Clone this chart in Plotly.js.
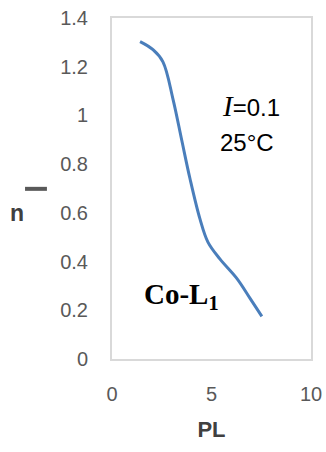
<!DOCTYPE html>
<html>
<head>
<meta charset="utf-8">
<script src="https://cdn.plot.ly/plotly-3.0.1.min.js"></script>
<style>html,body{margin:0;padding:0;background:#fff;}#chart{width:326px;height:452px;}</style>
</head>
<body>
<div id="chart"></div>
<script>
// Data (PL vs n-bar)
const plValues = [1.41, 2.06, 2.56, 3.07, 3.5, 3.92, 4.42, 4.82, 5.43, 6.28, 6.93, 7.53];
const nBarValues = [1.303, 1.27, 1.22, 1.065, 0.90, 0.74, 0.575, 0.48, 0.41, 0.33, 0.25, 0.175];
const xTickVals = [0, 5, 10];
const xTickText = ['0', '5', '10'];
const yTickVals = [0, 0.2, 0.4, 0.6, 0.8, 1, 1.2, 1.4];
const yTickText = ['0', '0.2', '0.4', '0.6', '0.8', '1', '1.2', '1.4'];

const trace = {
  x: plValues,
  y: nBarValues,
  type: 'scatter',
  mode: 'lines',
  line: {color: '#4a7ebb', width: 3, shape: 'spline', smoothing: 1},
  hoverinfo: 'skip'
};

const layout = {
  width: 326,
  height: 452,
  margin: {l: 112, r: 15, t: 18, b: 93},
  paper_bgcolor: '#ffffff',
  plot_bgcolor: '#ffffff',
  showlegend: false,
  font: {family: 'Liberation Sans, Arial, sans-serif', color: '#595959'},
  xaxis: {
    range: [0, 10],
    tickvals: xTickVals,
    ticktext: xTickText,
    showgrid: false,
    zeroline: false,
    showline: true,
    mirror: true,
    linecolor: '#d9d9d9',
    linewidth: 2,
    ticks: '',
    ticklabelstandoff: 16,
    tickfont: {size: 20, color: '#595959'},
    title: {text: '<b>PL</b>', font: {size: 22, color: '#404040'}, standoff: 18}
  },
  yaxis: {
    range: [0, 1.4],
    tickvals: yTickVals,
    ticktext: yTickText,
    showgrid: false,
    zeroline: false,
    showline: true,
    mirror: true,
    linecolor: '#d9d9d9',
    linewidth: 2,
    ticks: '',
    ticklabelstandoff: 18,
    tickfont: {size: 20, color: '#595959'}
  },
  annotations: [
    {x: -0.477, y: 0.428, xref: 'paper', yref: 'paper', text: '<b>n</b>', showarrow: false,
     xanchor: 'center', yanchor: 'middle', font: {size: 23, color: '#404040'}},
    {x: 6.98, y: 1.037, xref: 'x', yref: 'y', showarrow: false, xanchor: 'center', yanchor: 'middle',
     text: '<span style="font-family:Liberation Serif;font-style:italic;font-size:29px">I</span>=0.1',
     font: {size: 24, color: '#000000'}},
    {x: 6.8, y: 0.89, xref: 'x', yref: 'y', showarrow: false, xanchor: 'center', yanchor: 'middle',
     text: '25°C', font: {size: 24, color: '#000000'}},
    {x: 3.47, y: 0.26, xref: 'x', yref: 'y', showarrow: false, xanchor: 'center', yanchor: 'middle',
     text: '<b>Co-L<sub>1</sub></b>', font: {family: 'Liberation Serif, Times New Roman, serif', size: 29, color: '#000000'}}
  ],
  shapes: [
    {type: 'line', xref: 'paper', yref: 'paper', x0: -0.437, x1: -0.327, y0: 0.499, y1: 0.499,
     line: {color: '#595959', width: 4}}
  ]
};

Plotly.newPlot('chart', [trace], layout, {displayModeBar: false, staticPlot: true});
</script>
</body>
</html>
